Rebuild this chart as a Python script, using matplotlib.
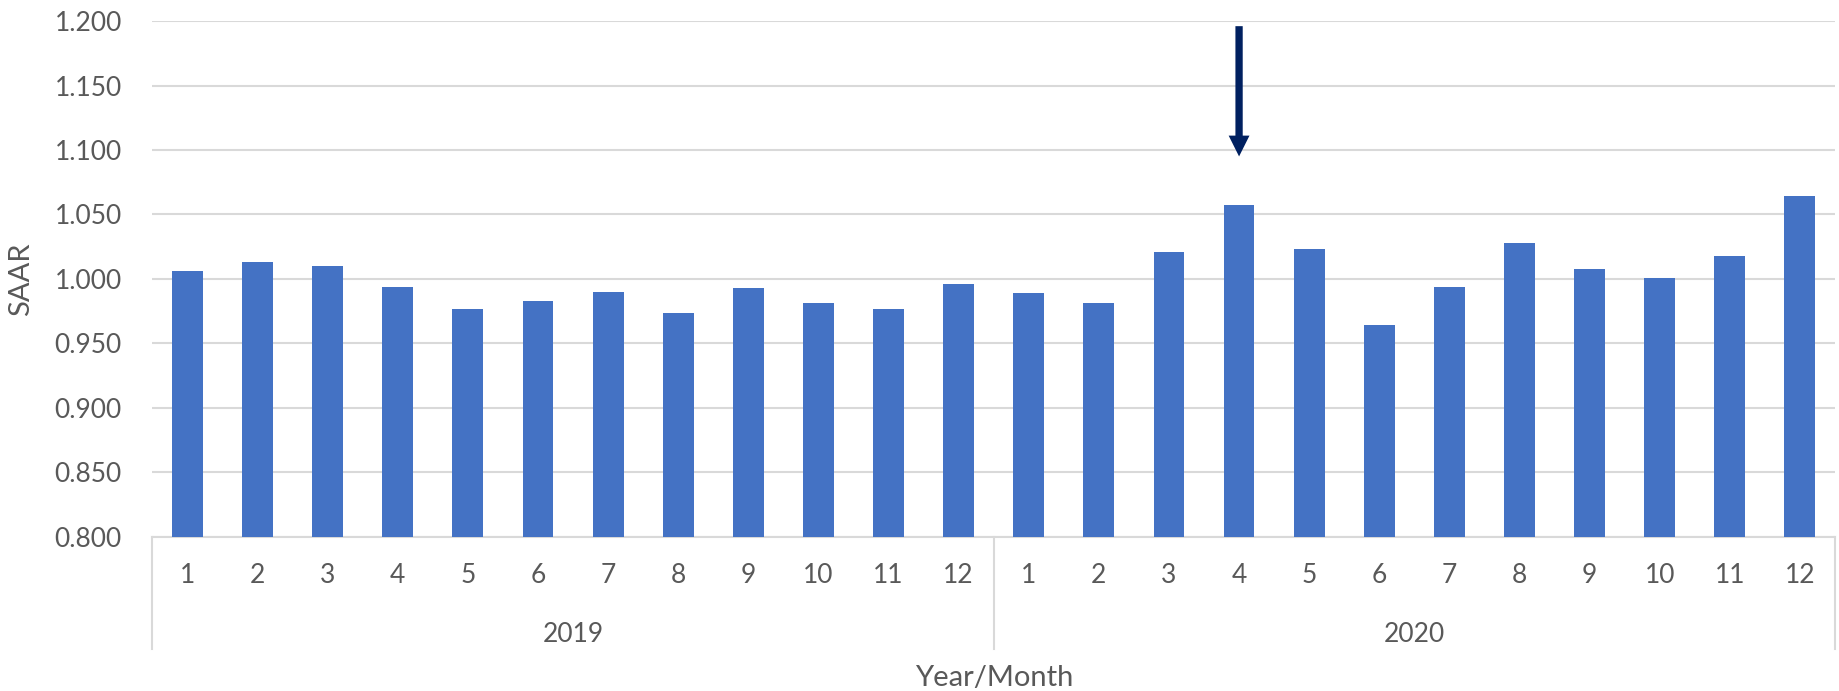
import matplotlib
matplotlib.use("Agg")
import matplotlib.pyplot as plt
from matplotlib.ticker import FormatStrFormatter

plt.rcParams['font.family'] = ['Lato', 'DejaVu Sans']

years = ["2019", "2020"]
months = [str(m) for m in range(1, 13)]
saar_2019 = [1.006, 1.013, 1.010, 0.994, 0.977, 0.983, 0.990, 0.974, 0.993, 0.981, 0.977, 0.996]
saar_2020 = [0.989, 0.981, 1.021, 1.057, 1.023, 0.964, 0.994, 1.028, 1.008, 1.001, 1.018, 1.064]
highlight_month = ("2020", 4)

values = saar_2019 + saar_2020
labels = months * len(years)
x = list(range(len(values)))

text_color = '#595959'
grid_color = '#d9d9d9'

fig = plt.figure(figsize=(18.39, 6.91), dpi=100)
ax = fig.add_axes([0.0829, 0.2229, 0.9149, 0.7467])

ax.bar(x, values, width=0.44, color='#4472C4', zorder=3, bottom=0)
ax.set_ylim(0.8, 1.2)
ax.set_xlim(-0.5, len(values) - 0.5)
ax.set_yticks([0.8 + 0.05 * i for i in range(9)])
ax.yaxis.set_major_formatter(FormatStrFormatter('%.3f'))
ax.grid(axis='y', color=grid_color, linewidth=1.5, zorder=0)

for side in ['top', 'right', 'left']:
    ax.spines[side].set_visible(False)
ax.spines['bottom'].set_color(grid_color)
ax.spines['bottom'].set_linewidth(1.5)

ax.set_xticks(x)
ax.set_xticklabels(labels)
ax.tick_params(axis='x', length=0, pad=19, labelsize=19, labelcolor=text_color)
ax.tick_params(axis='y', length=0, pad=22, labelsize=19, labelcolor=text_color)

# year group boxes under the month labels
xt = ax.get_xaxis_transform()
n = len(months)
for k in range(len(years) + 1):
    xb = k * n - 0.5
    ax.plot([xb, xb], [0, -0.217], transform=xt, color=grid_color,
            linewidth=1.5, clip_on=False)
for k, yr in enumerate(years):
    ax.text(k * n + (n - 1) / 2, -0.189, yr, transform=xt, ha='center',
            va='center', fontsize=19, color=text_color)

ax.text(0.5, -0.273, "Year/Month", transform=ax.transAxes, ha='center',
        va='center', fontsize=21, color=text_color)
ax.text(-0.078, 0.5, "SAAR", transform=ax.transAxes, ha='center',
        va='center', rotation=90, fontsize=21, color=text_color)

# arrow pointing at the highlighted month
hx = years.index(highlight_month[0]) * n + highlight_month[1] - 1
ax.annotate("", xy=(hx, 1.095), xytext=(hx, 1.196),
            arrowprops=dict(arrowstyle='simple,head_length=1.0,head_width=1.0,tail_width=0.35',
                            mutation_scale=15, color='#002060', lw=0,
                            shrinkA=0, shrinkB=0),
            zorder=5)

fig.savefig("out.png", dpi=100)
